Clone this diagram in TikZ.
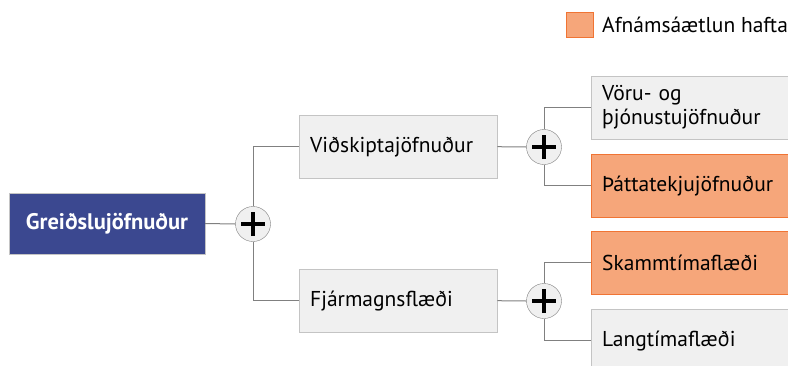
\documentclass[tikz,border=0pt]{standalone}
\usepackage{fontspec}
\setmainfont{PT Sans}
\definecolor{rootblue}{HTML}{3B4890}
\definecolor{boxgray}{HTML}{F0F0F0}
\definecolor{boxline}{HTML}{C4C4C4}
\definecolor{linkgray}{HTML}{808080}
\definecolor{hfill}{HTML}{F6A67A}
\definecolor{hline}{HTML}{F07434}
\tikzset{
  every node/.style={font=\fontsize{21.5}{24}\selectfont},
  rootbox/.style={draw=boxline, fill=rootblue, text=white, font=\fontsize{22.5}{24}\selectfont\bfseries,
    minimum width=196pt, minimum height=61pt, inner sep=0pt},
  graybox/.style={draw=boxline, fill=boxgray, anchor=north west, align=left,
    inner xsep=11pt, inner ysep=0pt, minimum height=63pt},
  midbox/.style={graybox, text width=176pt},
  leafbox/.style={graybox, text width=200pt},
  hlbox/.style={leafbox, draw=hline, fill=hfill},
  joint/.style={circle, draw=linkgray, fill=boxgray, minimum size=35pt, inner sep=0pt,
    path picture={\draw[line width=3.6pt, black]
      ([xshift=-12pt]path picture bounding box.center) -- ([xshift=12pt]path picture bounding box.center)
      ([yshift=-12pt]path picture bounding box.center) -- ([yshift=12pt]path picture bounding box.center);}},
  link/.style={draw=linkgray, line width=1pt},
}
\begin{document}
\begin{tikzpicture}[x=1pt, y=-1pt]
\useasboundingbox (0,0) rectangle (788,365);
\clip (0,0) rectangle (788,365);
\fill[white] (0,0) rectangle (788,365);

% legend
\node[draw=hline, fill=hfill, minimum width=27pt, minimum height=25pt, inner sep=0pt] (key) at (579.5,24.5) {};
\node[anchor=west, inner sep=0pt] (keytext) at (602,25) {Afnámsáætlun hafta};

% root and first split
\node[rootbox] (root) at (107,223.5) {Greiðslujöfnuður};
\node[joint] (j1) at (253,224) {};
\node[midbox] (vid) at (299,115) {Viðskiptajöfnuður};
\node[midbox] (fjar) at (299,269) {Fjármagnsflæði};

% second level splits
\node[joint] (j2) at (544,147) {};
\node[joint] (j3) at (544,301) {};
\node[leafbox] (voru) at (591,76) {Vöru- og\\þjónustujöfnuður};
\node[hlbox] (thatt) at (591,154) {Þáttatekjujöfnuður};
\node[hlbox] (skamm) at (591,231) {Skammtímaflæði};
\node[leafbox] (lang) at (591,309) {Langtímaflæði};

% connectors
\draw[link] (root.east) -- (j1.west);
\draw[link] (j1.north) |- (vid.west);
\draw[link] (j1.south) |- (fjar.west);
\draw[link] (vid.east) -- (j2.west);
\draw[link] (fjar.east) -- (j3.west);
\draw[link] (j2.north) |- (voru.west);
\draw[link] (j2.south) |- (thatt.west);
\draw[link] (j3.north) |- (skamm.west);
\draw[link] (j3.south) |- (lang.west);
\end{tikzpicture}
\end{document}
